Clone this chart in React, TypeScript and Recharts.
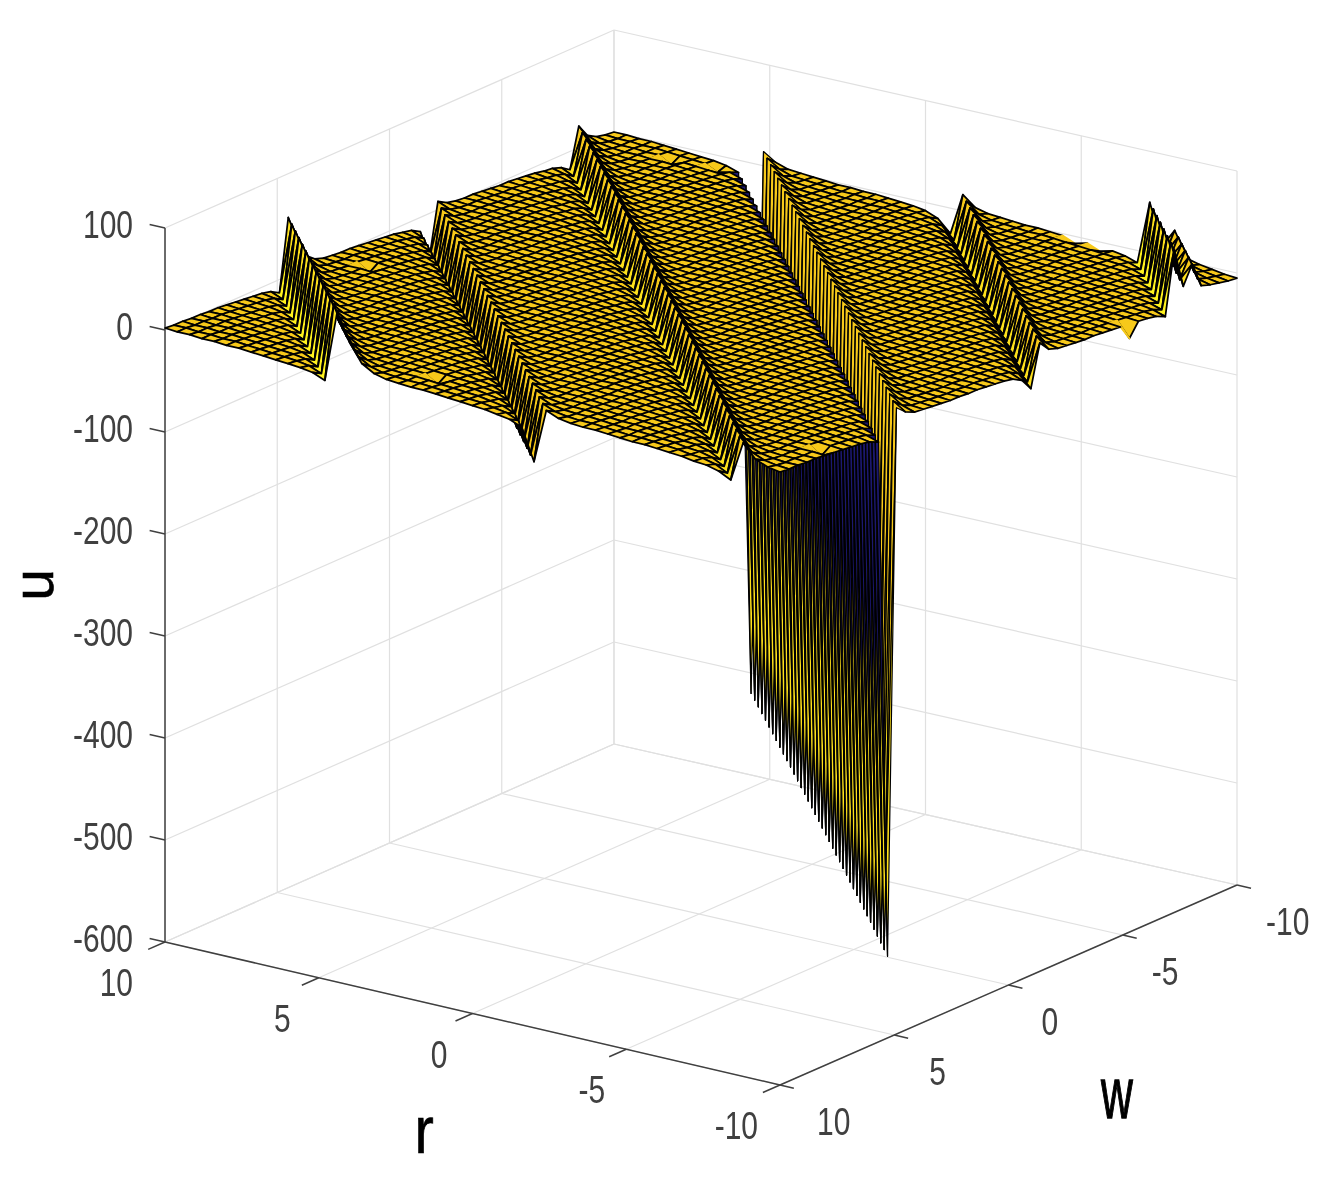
import { ScatterChart, Scatter, XAxis, YAxis, ReferenceLine } from "recharts";

// axis ticks
const rTicks = [10, 5, 0, -5, -10];
const wTicks = [10, 5, 0, -5, -10];
const uTicks = [-600, -500, -400, -300, -200, -100, 0, 100];

const uProfile = [
  2, 1, 1, 0, 0, -1, -1, -2, -3, -4, -5, -6, -8, -13, 57, 30, 12, 5, 2, 1,
  0, 0, -1, -2, -3, -4, -5, -7, -9, -14, -45, 8, 3, 1, 0, 0, -1, -2, -3, -3,
  -4, -5, -6, -8, -9, -12, -18, 21, 8, 3, 1, 0, 0, -1, -1, -2, -3, -4, -5, -6,
  -8, -12, -520, 14, 6, 2, 1, 0, -1, -2, -2, -3, -3, -4, -5, -6, -8, -13, -25, 16,
  6, 3, 2, 1, 0, 0, -1, -2, -3, -4, -5, -6, -8, -12, 50, 10, 28, 3, 0, -2,
  -4, -5,
];

// single mesh nodes that dip out of the surface: [r index, w index, extra u]
const nodeBumps = [
  [3, 19, -7],
  [20, 3, -7],
  [6, 49, -6],
  [9, 50, -5],
  [49, 6, -7],
  [50, 39, -14],
  [37, 51, -4],
  [39, 51, -4],
];

const R_STEPS = 50;
const W_STEPS = 51;

const PX_PER_U = 1.02;
const Y_ZERO = 330;
const CHART_W = 1341;
const CHART_H = 1188;
const AXIS_W = 165;

// floor corners of the box on screen
const LEFT = [165, 942];
const FRONT = [780, 1085];
const BACK = [614, 744];
const RIGHT = [1237, 885];

const project = (r: number, w: number, u: number) => {
  const a = (10 - r) / 20;
  const b = (10 - w) / 20;
  const mix = (k: number) =>
    (1 - a) * (1 - b) * LEFT[k] + a * (1 - b) * FRONT[k] + (1 - a) * b * BACK[k] + a * b * RIGHT[k];
  return { x: mix(0), y: u + (LEFT[1] - mix(1)) / PX_PER_U };
};

const nodeR = (i: number) => 10 - (i * 20) / R_STEPS;
const nodeW = (j: number) => 10 - (j * 20) / W_STEPS;

const nodeU = (i: number, j: number) => {
  const bump = nodeBumps.find((b) => b[0] === i && b[1] === j);
  return uProfile[i + j] + (bump ? bump[2] : 0);
};

const colorOf = (u: number) => {
  if (u < -200) return "#1c1870";
  if (u > 30) return "#fff21e";
  if (u > 9) return "#fde01c";
  return "#f7c91a";
};

// one entry per mesh cell, back to front so nearer cells paint over farther ones
const buildCells = () => {
  const cells: any[] = [];
  for (let j = W_STEPS - 1; j >= 0; j--) {
    for (let i = 0; i < R_STEPS; i++) {
      const nodes = [
        [i, j],
        [i + 1, j],
        [i + 1, j + 1],
        [i, j + 1],
      ];
      const corners = nodes.map(([a, b]) => project(nodeR(a), nodeW(b), nodeU(a, b)));
      const us = nodes.map(([a, b]) => nodeU(a, b));
      const bumped = nodeBumps.some((b) => b[0] === i + 1 && b[1] === j + 1);
      cells.push({
        x: corners[0].x,
        y: corners[0].y,
        corners,
        fill: colorOf(nodeU(i + 1, j + 1)),
        bumped,
        tall: Math.max(...us) - Math.min(...us) > 200,
      });
    }
  }
  return cells;
};

const CellShape = (props: any) => {
  const { cx, cy, payload } = props;
  const pts = payload.corners
    .map((c: any) => `${cx + c.x - payload.x},${cy - (c.y - payload.y) * PX_PER_U}`)
    .join(" ");
  return (
    <polygon
      points={pts}
      fill={payload.fill}
      stroke={payload.bumped ? payload.fill : "#000"}
      strokeWidth={payload.tall ? 1.2 : 1.75}
      strokeLinejoin="round"
    />
  );
};

const FONT = "'Liberation Sans', Arial, sans-serif";

const LabelShape = (props: any) => {
  const { cx, cy, payload } = props;
  return (
    <g transform={`translate(${cx + payload.dx},${cy + payload.dy}) rotate(${payload.rot || 0}) scale(1,${payload.sy})`}>
      <text
        x={0}
        y={0}
        textAnchor={payload.anchor}
        fontFamily={FONT}
        fontSize={payload.size}
        fill={payload.color}
        stroke={payload.heavy ? payload.color : "none"}
        strokeWidth={payload.heavy || 0}
      >
        {payload.text}
      </text>
    </g>
  );
};

const UTick = (props: any) => {
  const { x, y, payload } = props;
  return (
    <g transform={`translate(${x},${y + 10}) scale(1,1.32)`}>
      <text x={0} y={0} textAnchor="end" fontFamily={FONT} fontSize={30} fill="#404040">
        {payload.value}
      </text>
    </g>
  );
};

const segment = (a: { x: number; y: number }, b: { x: number; y: number }) => [a, b];

const gridSegments = () => {
  const segs: any[] = [];
  rTicks.forEach((r) => {
    segs.push(segment(project(r, 10, -600), project(r, -10, -600)));
    segs.push(segment(project(r, -10, -600), project(r, -10, 100)));
  });
  wTicks.forEach((w) => {
    segs.push(segment(project(10, w, -600), project(-10, w, -600)));
    segs.push(segment(project(10, w, -600), project(10, w, 100)));
  });
  uTicks.forEach((u) => {
    segs.push(segment(project(10, 10, u), project(10, -10, u)));
    segs.push(segment(project(10, -10, u), project(-10, -10, u)));
  });
  return segs;
};

const axisSegments = () => {
  const segs: any[] = [
    segment(project(10, 10, -600), project(-10, 10, -600)),
    segment(project(-10, 10, -600), project(-10, -10, -600)),
    segment(project(10, 10, -600), project(10, 10, 100)),
  ];
  rTicks.forEach((r) => segs.push(segment(project(r, 10, -600), project(r, 10.75, -600))));
  wTicks.forEach((w) => segs.push(segment(project(-10, w, -600), project(-10.45, w, -600))));
  uTicks.forEach((u) => segs.push(segment(project(10, 10, u), project(10.5, 10, u))));
  return segs;
};

const rLabelDx = [-32, -28, -25, -21, -22];
const wLabelDx = [37, 35, 33, 29, 29];

const tickLabels = [
  ...rTicks.map((r, n) => ({
    ...project(r, 10, -600),
    text: String(r),
    dx: rLabelDx[n],
    dy: 54,
    anchor: "end",
    size: 30,
    sy: 1.32,
    color: "#404040",
  })),
  ...wTicks.map((w, n) => ({
    ...project(-10, w, -600),
    text: String(w),
    dx: wLabelDx[n],
    dy: 50,
    anchor: "start",
    size: 30,
    sy: 1.32,
    color: "#404040",
  })),
];

const axisNames = [
  { ...project(0, 10, -600), text: "r", dx: -58, dy: 139, anchor: "start", size: 58, sy: 1.15, color: "#000", heavy: 0.6 },
  { ...project(0, -0, -600), text: "w", dx: 402, dy: 204, anchor: "start", size: 44, sy: 1.65, color: "#000", heavy: 0.8 },
  { x: AXIS_W, y: -250, text: "u", dx: -112, dy: 0, anchor: "middle", size: 57, sy: 1, rot: -90, color: "#000", heavy: 0.6 },
];

const cells = buildCells();

export default function App() {
  return (
    <div style={{ position: "absolute", left: 0, top: 0, width: CHART_W, height: CHART_H, filter: "blur(0.6px)" }}>
      <ScatterChart width={CHART_W} height={CHART_H} margin={{ top: 0, right: 0, bottom: 0, left: 0 }}>
        <XAxis type="number" dataKey="x" domain={[AXIS_W, CHART_W]} hide height={0} />
        <YAxis
          type="number"
          dataKey="y"
          width={AXIS_W}
          domain={[(Y_ZERO - CHART_H) / PX_PER_U, Y_ZERO / PX_PER_U]}
          ticks={uTicks}
          interval={0}
          axisLine={false}
          tickLine={false}
          tickSize={32}
          tickMargin={0}
          tick={<UTick />}
        />
        {gridSegments().map((s, n) => (
          <ReferenceLine key={`g${n}`} segment={s} stroke="#e0e0e0" strokeWidth={1.2} ifOverflow="visible" />
        ))}
        {axisSegments().map((s, n) => (
          <ReferenceLine key={`a${n}`} segment={s} stroke="#404040" strokeWidth={1.5} ifOverflow="visible" />
        ))}
        <Scatter data={cells} shape={<CellShape />} isAnimationActive={false} />
        <Scatter data={tickLabels} shape={<LabelShape />} isAnimationActive={false} />
        <Scatter data={axisNames} shape={<LabelShape />} isAnimationActive={false} />
      </ScatterChart>
    </div>
  );
}
